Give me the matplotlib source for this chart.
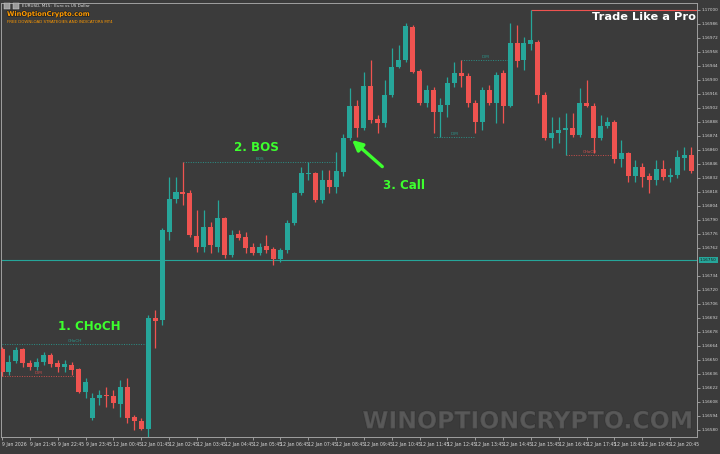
import numpy as np
import matplotlib.pyplot as plt
import matplotlib.patheffects as pe
from matplotlib import font_manager

# EURUSD M15, prices
opens = [1.16661, 1.16638, 1.16649, 1.16661, 1.16647, 1.16643, 1.16648, 1.16655, 1.16647, 1.16643,
         1.16645, 1.16641, 1.16618, 1.16592, 1.16612, 1.16615, 1.16614, 1.16606, 1.16623, 1.16593,
         1.16589, 1.16581, 1.16692, 1.16690, 1.16778, 1.16811, 1.16818, 1.16817, 1.16774, 1.16763,
         1.16783, 1.16763, 1.16792, 1.16755, 1.16776, 1.16773, 1.16763, 1.16757, 1.16764, 1.16761,
         1.16751, 1.16760, 1.16787, 1.16817, 1.16836, 1.16837, 1.16810, 1.16830, 1.16823, 1.16838,
         1.16872, 1.16904, 1.16882, 1.16924, 1.16891, 1.16887, 1.16915, 1.16943, 1.16950, 1.16983,
         1.16939, 1.16907, 1.16920, 1.16898, 1.16905, 1.16927, 1.16937, 1.16934, 1.16907, 1.16888,
         1.16920, 1.16907, 1.16937, 1.16904, 1.16967, 1.16950, 1.16966, 1.16968, 1.16915, 1.16872,
         1.16877, 1.16880, 1.16882, 1.16875, 1.16907, 1.16904, 1.16872, 1.16884, 1.16888, 1.16851,
         1.16857, 1.16834, 1.16843, 1.16834, 1.16830, 1.16841, 1.16833, 1.16835, 1.16852, 1.16855]
highs = [1.16663, 1.16655, 1.16663, 1.16662, 1.16650, 1.16652, 1.16658, 1.16657, 1.16650, 1.16650,
         1.16648, 1.16642, 1.16632, 1.16617, 1.16620, 1.16623, 1.16620, 1.16630, 1.16632, 1.16595,
         1.16592, 1.16695, 1.16700, 1.16782, 1.16833, 1.16833, 1.16848, 1.16820, 1.16800, 1.16800,
         1.16788, 1.16810, 1.16793, 1.16780, 1.16780, 1.16778, 1.16767, 1.16767, 1.16775, 1.16763,
         1.16762, 1.16790, 1.16818, 1.16843, 1.16848, 1.16838, 1.16840, 1.16840, 1.16858, 1.16876,
         1.16922, 1.16910, 1.16938, 1.16950, 1.16895, 1.16930, 1.16962, 1.16965, 1.16987, 1.16985,
         1.16941, 1.16925, 1.16923, 1.16912, 1.16933, 1.16948, 1.16950, 1.16937, 1.16910, 1.16923,
         1.16925, 1.16938, 1.16940, 1.16987, 1.16985, 1.16973, 1.17000, 1.16970, 1.16918, 1.16893,
         1.16893, 1.16897, 1.16897, 1.16922, 1.16930, 1.16907, 1.16895, 1.16893, 1.16890, 1.16870,
         1.16858, 1.16850, 1.16847, 1.16837, 1.16850, 1.16850, 1.16842, 1.16860, 1.16863, 1.16863]
lows = [1.16634, 1.16635, 1.16647, 1.16643, 1.16640, 1.16640, 1.16645, 1.16643, 1.16638, 1.16638,
        1.16635, 1.16617, 1.16612, 1.16590, 1.16605, 1.16603, 1.16602, 1.16593, 1.16587, 1.16580,
        1.16580, 1.16570, 1.16662, 1.16685, 1.16770, 1.16807, 1.16805, 1.16773, 1.16758, 1.16758,
        1.16757, 1.16758, 1.16752, 1.16753, 1.16770, 1.16757, 1.16755, 1.16755, 1.16757, 1.16745,
        1.16748, 1.16757, 1.16785, 1.16815, 1.16830, 1.16808, 1.16807, 1.16817, 1.16817, 1.16834,
        1.16870, 1.16873, 1.16880, 1.16887, 1.16877, 1.16883, 1.16913, 1.16942, 1.16948, 1.16937,
        1.16905, 1.16903, 1.16877, 1.16873, 1.16893, 1.16923, 1.16923, 1.16903, 1.16877, 1.16880,
        1.16905, 1.16887, 1.16887, 1.16903, 1.16943, 1.16940, 1.16960, 1.16907, 1.16870, 1.16862,
        1.16867, 1.16855, 1.16873, 1.16873, 1.16903, 1.16857, 1.16870, 1.16882, 1.16847, 1.16843,
        1.16828, 1.16828, 1.16823, 1.16817, 1.16825, 1.16830, 1.16828, 1.16832, 1.16840, 1.16837]
closes = [1.16638, 1.16648, 1.16660, 1.16647, 1.16643, 1.16648, 1.16655, 1.16646, 1.16643, 1.16646,
          1.16640, 1.16618, 1.16628, 1.16612, 1.16615, 1.16614, 1.16607, 1.16623, 1.16592, 1.16589,
          1.16581, 1.16692, 1.16689, 1.16780, 1.16811, 1.16818, 1.16816, 1.16775, 1.16763, 1.16783,
          1.16765, 1.16792, 1.16755, 1.16775, 1.16772, 1.16762, 1.16757, 1.16763, 1.16760, 1.16751,
          1.16760, 1.16787, 1.16817, 1.16837, 1.16837, 1.16810, 1.16830, 1.16823, 1.16839, 1.16872,
          1.16904, 1.16882, 1.16924, 1.16890, 1.16887, 1.16915, 1.16943, 1.16950, 1.16984, 1.16938,
          1.16907, 1.16920, 1.16898, 1.16905, 1.16927, 1.16937, 1.16934, 1.16907, 1.16888, 1.16920,
          1.16907, 1.16935, 1.16904, 1.16967, 1.16949, 1.16967, 1.16970, 1.16915, 1.16872, 1.16877,
          1.16880, 1.16882, 1.16875, 1.16907, 1.16904, 1.16872, 1.16884, 1.16888, 1.16851, 1.16857,
          1.16834, 1.16843, 1.16833, 1.16830, 1.16841, 1.16833, 1.16835, 1.16853, 1.16855, 1.16839]

# time axis labels, one every 4 bars
label_bars = [0, 4, 8, 12, 16, 20, 24, 28, 32, 36, 40, 44, 48, 52, 56, 60, 64, 68, 72, 76, 80, 84, 88, 92, 96]
time_labels = ["9 Jan 2026", "9 Jan 21:45", "9 Jan 22:45", "9 Jan 23:45",
               "12 Jan 00:45", "12 Jan 01:45", "12 Jan 02:45", "12 Jan 03:45", "12 Jan 04:45",
               "12 Jan 05:45", "12 Jan 06:45", "12 Jan 07:45", "12 Jan 08:45", "12 Jan 09:45",
               "12 Jan 10:45", "12 Jan 11:45", "12 Jan 12:45", "12 Jan 13:45", "12 Jan 14:45",
               "12 Jan 15:45", "12 Jan 16:45", "12 Jan 17:45", "12 Jan 18:45", "12 Jan 19:45",
               "12 Jan 20:45"]

price_ticks = [1.17000, 1.16986, 1.16972, 1.16958, 1.16944, 1.16930, 1.16916, 1.16902, 1.16888,
               1.16874, 1.16860, 1.16846, 1.16832, 1.16818, 1.16804, 1.16790, 1.16776, 1.16762,
               1.16734, 1.16720, 1.16706, 1.16692, 1.16678, 1.16664, 1.16650, 1.16636,
               1.16622, 1.16608, 1.16594, 1.16580]

# structure levels from the indicator: price, first bar, last bar, tag, bullish?
level_price = [1.16666, 1.16634, 1.16848, 1.16950, 1.16873, 1.16855]
level_start = [0, 0, 26, 66, 62, 81]
level_end = [21, 10.5, 48, 73, 68, 88]
level_tag = ["CHoCH", "IDM", "BOS", "IDM", "IDM", "CHoCH"]
level_bull = [True, False, True, True, True, False]

top_high = 1.17000      # red line from the session high
top_high_bar = 76
price_line = 1.16750    # horizontal line / highlighted label

TEAL = '#26a69a'
RED = '#ef5350'
BG = '#3b3b3b'
GREEN = '#3dff2e'

names = {f.name for f in font_manager.fontManager.ttflist}
narrow = 'Liberation Sans Narrow' in names
NARROW = ['Liberation Sans Narrow', 'DejaVu Sans'] if narrow else ['DejaVu Sans']

fig = plt.figure(figsize=(7.2, 4.54), dpi=100, facecolor=BG)
# chart area: x 1..697 px, y 3..437 px
ax = fig.add_axes([1 / 720, 17 / 454, 696 / 720, 434 / 454], facecolor=BG)

o = np.array(opens)
h = np.array(highs)
l = np.array(lows)
c = np.array(closes)
x = np.arange(len(o))
colors = np.where(c >= o, TEAL, RED)

ax.vlines(x, l, h, colors=colors, lw=0.9, zorder=3)
body = np.maximum(np.abs(c - o), 0.000012)
ax.bar(x, body, bottom=np.minimum(o, c), width=0.72, color=colors, linewidth=0, zorder=4)

# bar k sits at 2 + 6.96k px
ax.set_xlim(-0.144, 99.86)
ax.set_ylim(1.16573, 1.17007)

# price line
ax.axhline(price_line, color=TEAL, lw=0.8, zorder=2)
# session high
ax.hlines(top_high, top_high_bar, 99.86, color=RED, lw=0.8, zorder=2)

for p, s, e, tag, bull in zip(level_price, level_start, level_end, level_tag, level_bull):
    col = TEAL if bull else RED
    ax.hlines(p, s, e, color=col, lw=0.7, linestyles=(0, (1, 1.5)), alpha=0.8, zorder=2)
    ax.text((s + e) / 2, p + 0.00001, tag, color=col, fontsize=3, ha='center', va='bottom',
            alpha=0.85, zorder=5)

# annotations
big = dict(color=GREEN, fontsize=8.6, fontweight='bold', family=NARROW, ha='center', va='center', zorder=6)
ax.text(12.6, 1.16683, "1. CHoCH", **big)
ax.text(36.6, 1.16862, "2. BOS", **big)
ax.annotate("3. Call", xy=(50.3, 1.16870), xytext=(57.8, 1.16824), textcoords='data',
            arrowprops=dict(arrowstyle='-|>', color=GREEN, lw=2.4, mutation_scale=15,
                            shrinkA=11, shrinkB=0), **big)

ax.text(0.924, 0.967, "Trade Like a Pro", transform=ax.transAxes, color='white', fontsize=8.2,
        fontweight='bold', family=NARROW, ha='center', va='center', zorder=6)

# watermark
ax.text(0.757, 0.036, "WINOPTIONCRYPTO.COM", transform=ax.transAxes, color='#6c6c6c', alpha=0.4,
        fontsize=24 if narrow else 17, fontweight='bold', family=NARROW, ha='center', va='center',
        zorder=1, path_effects=[pe.withStroke(linewidth=1.2, foreground='#2e2e2e')])

# header
fig.text(22 / 720, 1 - 6 / 454, "EURUSD, M15:  Euro vs US Dollar", color='#e0e0e0', fontsize=3,
         va='center', ha='left')
fig.text(7 / 720, 1 - 14 / 454, "WinOptionCrypto.com", color='#ff9a00', fontsize=5.8 if narrow else 4.8,
         fontweight='bold', family=NARROW, va='center', ha='left',
         path_effects=[pe.withStroke(linewidth=1.0, foreground='#222222')])
fig.text(7 / 720, 1 - 22 / 454, "FREE DOWNLOAD STRATEGIES AND INDICATORS MT4", color='#ff9a00',
         fontsize=2.9, va='center', ha='left')
for x0 in (4, 13):
    fig.patches.append(plt.Rectangle((x0 / 720, 1 - 9 / 454), 6 / 720, 6 / 454, transform=fig.transFigure,
                                     facecolor='#9a9a9a', edgecolor='#dddddd', lw=0.3))

# axes styling
for side in ('left', 'top', 'right', 'bottom'):
    ax.spines[side].set_color('#a0a0a0')
    ax.spines[side].set_linewidth(0.7)

ax.yaxis.tick_right()
ax.set_yticks(price_ticks)
ax.set_yticklabels(["%.5f" % p for p in price_ticks])
ax.tick_params(axis='y', length=2, width=0.5, color='#c0c0c0', labelsize=3.0, labelcolor='#d8d8d8', pad=1)

ax.set_xticks(label_bars)
ax.set_xticklabels(time_labels)
for t in ax.get_xticklabels():
    t.set_ha('left')
ax.tick_params(axis='x', length=2, width=0.5, color='#c0c0c0', labelsize=3.3, labelcolor='#d8d8d8', pad=1.5)

# highlighted price label
ax.text(1.004, price_line, "%.5f" % price_line, transform=ax.get_yaxis_transform(), fontsize=3.0,
        color='#1a1a1a', va='center', ha='left', clip_on=False, zorder=7,
        bbox=dict(boxstyle='square,pad=0.25', facecolor=TEAL, edgecolor='none'))

fig.savefig('out.png', dpi=100, facecolor=BG)
